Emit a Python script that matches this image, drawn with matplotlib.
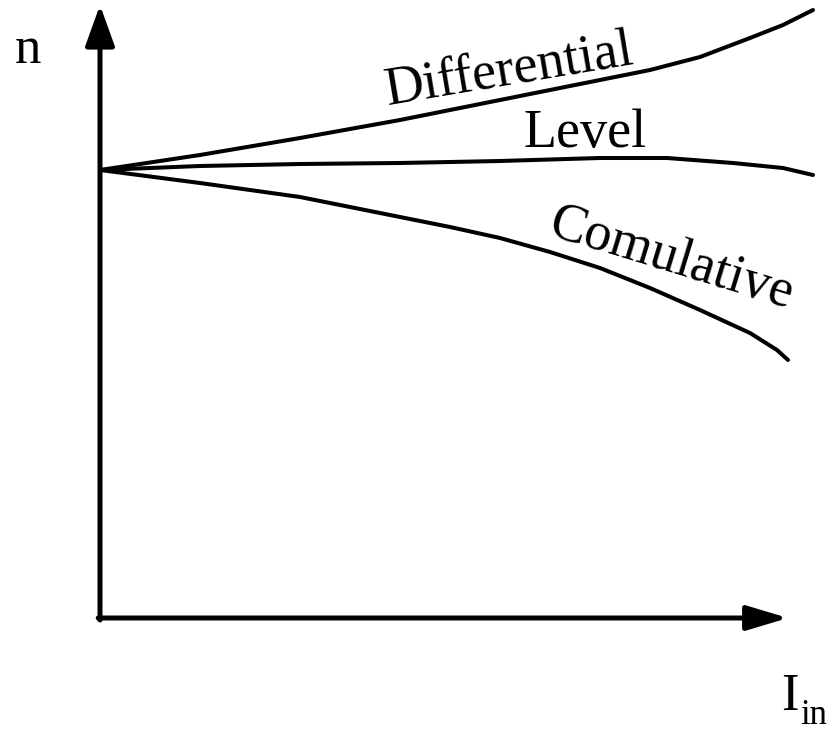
import matplotlib
matplotlib.use("Agg")
import matplotlib.pyplot as plt

# curve values (origin at the axes corner)
i_diff = [0, 1.0, 2.0, 3.0, 4.0, 4.5, 5.0, 5.5, 6.0, 6.5, 6.83, 7.13]
n_diff = [4.48, 4.63, 4.80, 4.98, 5.18, 5.28, 5.38, 5.48, 5.61, 5.80, 5.93, 6.08]

i_level = [0, 1.0, 2.0, 3.0, 4.0, 5.0, 5.67, 6.33, 6.83, 7.13]
n_level = [4.48, 4.52, 4.54, 4.55, 4.57, 4.60, 4.60, 4.55, 4.50, 4.43]

i_com = [0, 1.0, 2.0, 2.5, 3.0, 3.5, 4.0, 4.5, 5.0, 5.5, 6.0, 6.5, 6.77, 6.88]
n_com = [4.48, 4.35, 4.21, 4.11, 4.01, 3.91, 3.80, 3.66, 3.50, 3.30, 3.08, 2.85,
         2.68, 2.58]

serif = "Liberation Serif"

fig = plt.figure(figsize=(8.31, 7.31), dpi=100)
ax = fig.add_axes([0, 0, 1, 1])
ax.set_xlim(-1.00, 7.31)
ax.set_ylim(-1.13, 6.18)
ax.axis("off")

# axes with arrow heads
ax.annotate("", xy=(0, 6.13), xytext=(0, -0.02),
            arrowprops=dict(arrowstyle="-|>,head_length=1.0,head_width=0.36",
                            mutation_scale=25, lw=3.6, color="black",
                            shrinkA=0, shrinkB=0))
ax.annotate("", xy=(6.88, 0), xytext=(-0.018, 0),
            arrowprops=dict(arrowstyle="-|>,head_length=1.0,head_width=0.3",
                            mutation_scale=25, lw=3.6, color="black",
                            shrinkA=0, shrinkB=0))

# curves
for xs, ys in [(i_diff, n_diff), (i_level, n_level), (i_com, n_com)]:
    ax.plot(xs, ys, color="black", lw=2.9, solid_capstyle="round",
            solid_joinstyle="round")

# labels
ax.text(-0.72, 5.55, "n", fontsize=38, family=serif, ha="center", va="baseline")
ax.text(6.90, -0.92, "I", fontsize=38, family=serif, ha="center", va="baseline")
ax.text(7.00, -1.06, "in", fontsize=25, family=serif, ha="left", va="baseline")

ax.text(4.11, 5.34, "Differential", fontsize=39, family=serif, rotation=9.5,
        rotation_mode="anchor", ha="center", va="baseline")
ax.text(4.85, 4.71, "Level", fontsize=39, family=serif,
        ha="center", va="baseline")
ax.text(5.68, 3.46, "Comulative", fontsize=39, family=serif, rotation=-17,
        rotation_mode="anchor", ha="center", va="baseline")

fig.savefig("out.png", dpi=100)
